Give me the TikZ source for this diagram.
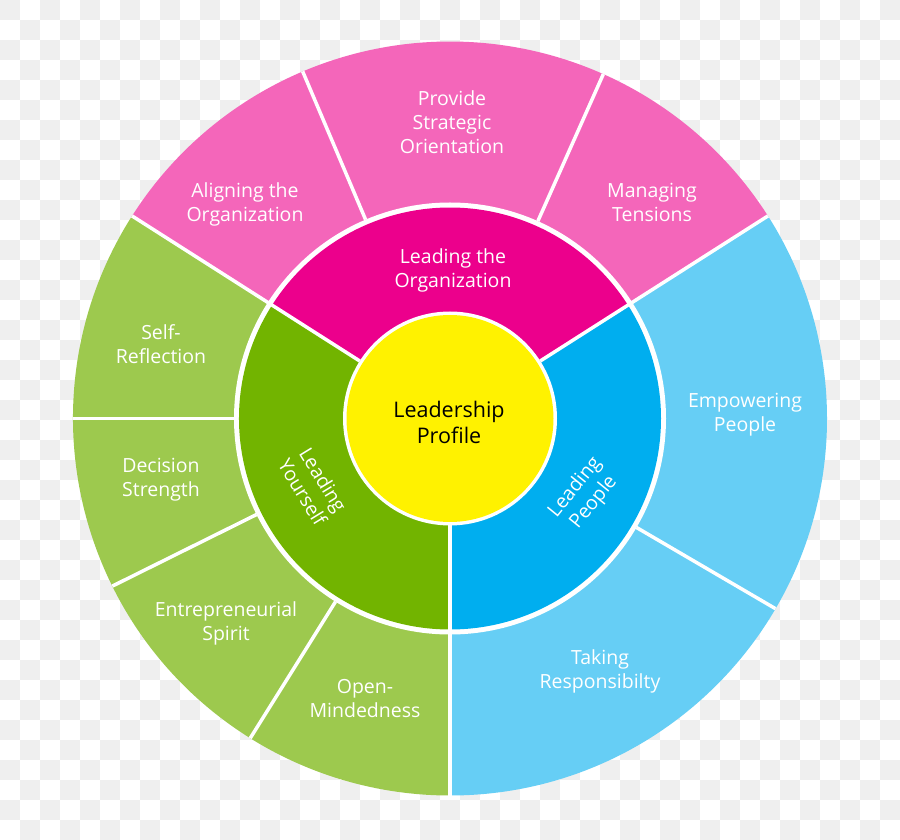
\documentclass[tikz,border=0pt]{standalone}
\usepackage{fontspec}
\setmainfont{Open Sans}
\definecolor{pinkO}{HTML}{F466BA}
\definecolor{magM}{HTML}{EC008C}
\definecolor{greenO}{HTML}{9DC94E}
\definecolor{greenM}{HTML}{72B400}
\definecolor{blueO}{HTML}{66CEF5}
\definecolor{blueM}{HTML}{00AEEF}
\definecolor{checker}{HTML}{EFEFEF}
\begin{document}
\begin{tikzpicture}[x=1pt,y=1pt,
  lbl/.style={text=white, font=\fontsize{19.5}{24}\selectfont, align=center, inner sep=0pt},
  sepline/.style={draw=white, line width=3.5pt}]
\useasboundingbox (0,0) rectangle (900,839);
\fill[white] (0,0) rectangle (900,839);
\foreach \i in {0,...,44}{\foreach \j in {0,...,41}{%
  \pgfmathtruncatemacro{\parity}{mod(\i+\j,2)}%
  \ifnum\parity=0 \fill[checker] (20*\i,819-20*\j) rectangle (20*\i+20,839-20*\j);\fi}}
\begin{scope}[shift={(450,420.5)}]
  % outer ring
  \fill[pinkO] (0,0) -- (32.5:377) arc[start angle=32.5,end angle=147.5,radius=377] -- cycle;
  \fill[greenO] (0,0) -- (147.5:377) arc[start angle=147.5,end angle=270,radius=377] -- cycle;
  \fill[blueO] (0,0) -- (-90:377) arc[start angle=-90,end angle=32.5,radius=377] -- cycle;
  \fill[white] (0,0) circle[radius=216];
  % middle ring
  \fill[magM] (0,0) -- (32.5:211) arc[start angle=32.5,end angle=147.5,radius=211] -- cycle;
  \fill[greenM] (0,0) -- (147.5:211) arc[start angle=147.5,end angle=270,radius=211] -- cycle;
  \fill[blueM] (0,0) -- (-90:211) arc[start angle=-90,end angle=32.5,radius=211] -- cycle;
  % separators
  \foreach \a in {32.5,147.5,270} \draw[sepline] (\a:107) -- (\a:377);
  \foreach \a in {66,113,180,206.4,238,-30.3} \draw[sepline] (\a:216) -- (\a:377);
  % centre
  \fill[white] (0,0) circle[radius=107];
  \fill[yellow] (0,0) circle[radius=103.5];
\end{scope}
% labels
\node[lbl] (prov) at (452,717) {Provide\\Strategic\\Orientation};
\node[lbl] (align) at (245,635) {Aligning the\\Organization};
\node[lbl] (manag) at (652,637) {Managing\\Tensions};
\node[lbl] (ledorg) at (453,569) {Leading the\\Organization};
\node[lbl] (selfref) at (161,495) {Self-\\Reflection};
\node[lbl] (decis) at (161,359) {Decision\\Strength};
\node[lbl] (entre) at (226,216) {Entrepreneurial\\Spirit};
\node[lbl] (openm) at (365,140) {Open-\\Mindedness};
\node[lbl] (empow) at (745,424) {Empowering\\People};
\node[lbl] (taking) at (600,168) {Taking\\Responsibilty};
\node[lbl, rotate=-58.5] (yours) at (313,353) {Leading\\Yourself};
\node[lbl, rotate=51] (people) at (584.5,344) {Leading\\People};
\node[lbl, text=black, font=\fontsize{21.5}{26}\selectfont] (prof) at (449,417) {Leadership\\Profile};
\end{tikzpicture}
\end{document}
